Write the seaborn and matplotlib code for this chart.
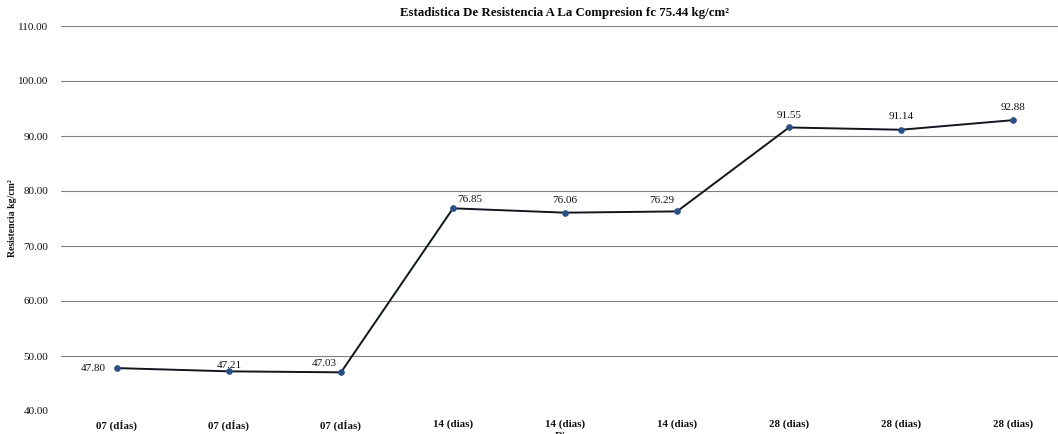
import matplotlib
matplotlib.use("Agg")
import matplotlib.pyplot as plt
import seaborn as sns
import pandas as pd

# Ensayos de compresión por edad de curado
edades = ["07 (dÍas)", "07 (dÍas)", "07 (dÍas)",
          "14 (dias)", "14 (dias)", "14 (dias)",
          "28 (dias)", "28 (dias)", "28 (dias)"]
resistencia = [47.80, 47.21, 47.03, 76.85, 76.06, 76.29, 91.55, 91.14, 92.88]
y_ticks = [40, 50, 60, 70, 80, 90, 100, 110]

titulo = "Estadistica De Resistencia A La Compresion fc 75.44 kg/cm²"
eje_y = "Resistencia kg/cm²"
eje_x = "Dias"

df = pd.DataFrame({"ensayo": range(len(resistencia)), "resistencia": resistencia})

sns.set_theme(style="white")
plt.rcParams["font.family"] = ["Liberation Serif", "DejaVu Serif"]

W, H = 1058, 434
fig = plt.figure(figsize=(W / 100, H / 100), dpi=100)
ax = fig.add_axes([61 / W, (H - 411) / H, 1008 / W, 385 / H])

sns.lineplot(data=df, x="ensayo", y="resistencia", ax=ax,
             color="#10141c", linewidth=1.4,
             marker="o", markersize=4, markerfacecolor="#2b4f86",
             markeredgecolor="#2b4f86")

# label offsets in pixels (dx, dy), converted to points below
offsets = [(-24, 0), (0, 6), (-17, 9), (17, 9), (0, 12), (-15, 11),
           (0, 12), (0, 13), (0, 13)]
for i, (v, (dx, dy)) in enumerate(zip(resistencia, offsets)):
    ax.annotate(f"{v:.2f}", (i, v), xytext=(dx * 0.72, dy * 0.72),
                textcoords="offset points", ha="center", va="center",
                fontsize=8, color="#111111")

ax.set_xlim(-0.5, len(resistencia) - 0.5)
ax.set_ylim(40, 110)
ax.set_yticks(y_ticks)
ax.set_yticklabels([f"{t:.2f}" for t in y_ticks], fontsize=8, color="#111111")
ax.set_xticks(range(len(edades)))
ax.set_xticklabels(edades, fontsize=7.8, fontweight="bold", color="#111111")
ax.tick_params(axis="both", length=0)
ax.tick_params(axis="y", pad=9)
ax.tick_params(axis="x", pad=6)

for t in y_ticks[1:]:
    ax.axhline(t, color="#808080", linewidth=0.8, zorder=0)

for s in ax.spines.values():
    s.set_visible(False)

ax.set_title(titulo, fontsize=9.3, fontweight="bold", color="#0a0a0a", pad=7)
ax.set_ylabel(eje_y, fontsize=7, fontweight="bold", color="#111111")
ax.yaxis.set_label_coords(-44 / 1008, 0.5)
ax.set_xlabel(eje_x, fontsize=7.8, fontweight="bold", color="#111111", labelpad=1)

fig.savefig("out.png", dpi=100, facecolor="white")
